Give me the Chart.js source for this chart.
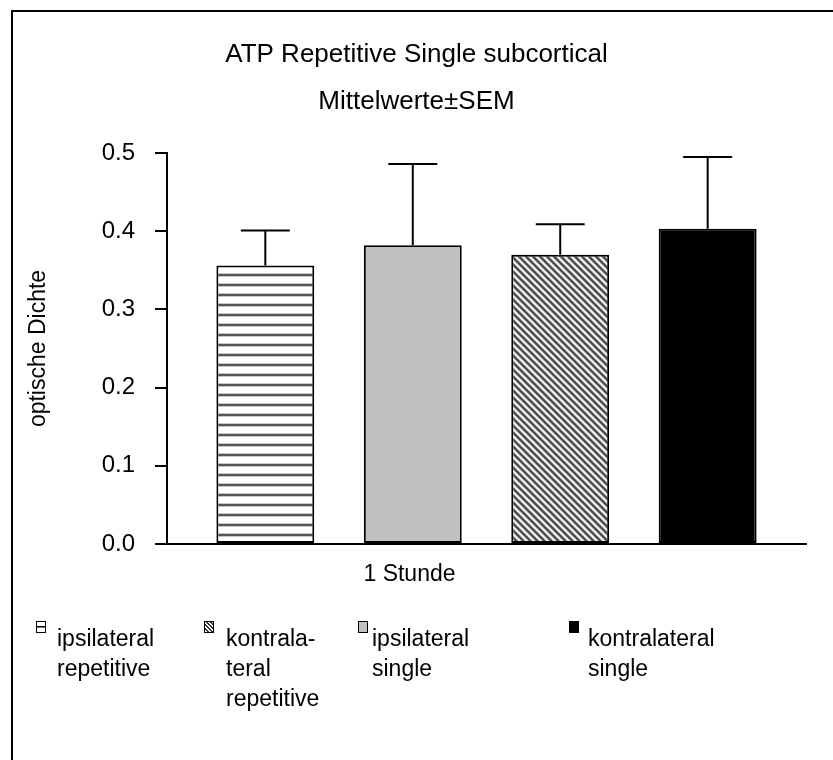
<!DOCTYPE html>
<html><head><meta charset="utf-8">
<script src="https://cdn.jsdelivr.net/npm/chart.js@4"></script>
<style>
html,body{margin:0;padding:0;overflow:hidden;background:#fff;width:833px;height:760px;}
#frame{position:absolute;left:11px;top:10px;width:900px;height:900px;border:2px solid #000;box-sizing:border-box;}
#c{position:absolute;left:0;top:0;}
#legend{position:absolute;left:0;top:0;width:833px;height:760px;font-family:"Liberation Sans",Arial,sans-serif;font-size:23px;color:#000;}
.mk{position:absolute;width:10px;height:12px;box-sizing:border-box;}
.txt{position:absolute;line-height:30px;white-space:pre;}
</style></head>
<body>
<div id="frame"></div>
<canvas id="c" width="833" height="760"></canvas>
<div id="legend"></div>
<script>
// ---- data ----
const categories = ['1 Stunde'];
const seriesNames = ['ipsilateral repetitive', 'ipsilateral single', 'kontralateral repetitive', 'kontralateral single'];
const legendLabels = ['ipsilateral\nrepetitive', 'ipsilateral\nsingle', 'kontrala-\nteral\nrepetitive', 'kontralateral\nsingle'];
const meanValues = [0.356, 0.382, 0.370, 0.403];
const semValues = [0.045, 0.104, 0.039, 0.092];
const yTickValues = [0.0, 0.1, 0.2, 0.3, 0.4, 0.5];
const legendOrder = [0, 2, 1, 3];
const titleLines = ['ATP Repetitive Single subcortical', 'Mittelwerte\u00B1SEM'];
const yAxisTitle = 'optische Dichte';

// ---- styling / layout ----
const FONT = '"Liberation Sans", Arial, sans-serif';
const canvas = document.getElementById('c');
const ctx = canvas.getContext('2d');

function hStripes() {
  const c = document.createElement('canvas'); c.width = 10; c.height = 10;
  const g = c.getContext('2d');
  g.fillStyle = '#fff'; g.fillRect(0, 0, 10, 10);
  g.fillStyle = '#c8c8c8'; g.fillRect(0, 3, 10, 1); g.fillRect(0, 6, 10, 1);
  g.fillStyle = '#555'; g.fillRect(0, 4, 10, 2);
  return ctx.createPattern(c, 'repeat');
}
function dStripes() {
  const P = 7;
  const c = document.createElement('canvas'); c.width = P; c.height = P;
  const g = c.getContext('2d');
  const img = g.createImageData(P, P);
  for (let y = 0; y < P; y++) for (let x = 0; x < P; x++) {
    const t = (((x - y) % P) + P) % P;
    const v = 0.5 + 0.5 * Math.cos(2 * Math.PI * t / P);
    const col = Math.round(60 + v * 195);
    const k = (y * P + x) * 4;
    img.data[k] = img.data[k + 1] = img.data[k + 2] = col; img.data[k + 3] = 255;
  }
  g.putImageData(img, 0, 0);
  return ctx.createPattern(c, 'repeat');
}
const fills = [hStripes(), '#c0c0c0', dStripes(), '#000000'];
const legendCss = [
  'background:#fff;border:1.5px solid #000;background-image:linear-gradient(#000,#000);background-size:100% 1.5px;background-position:0 50%;background-repeat:no-repeat;',
  'background:#c0c0c0;border:1.5px solid #000;',
  'background:repeating-linear-gradient(45deg,#fff 0 1.5px,#333 1.5px 3px);border:1.5px solid #000;',
  'background:#000;border:1.5px solid #000;'
];
const legendMarkerX = [36, 358, 204, 569];
const legendTextX = [57, 372, 226, 588];

const errorBars = {
  id: 'errorBars',
  afterDatasetsDraw(chart) {
    const c = chart.ctx, y = chart.scales.y;
    c.save(); c.strokeStyle = '#000'; c.lineWidth = 2;
    chart.data.datasets.forEach((ds, i) => {
      chart.getDatasetMeta(i).data.forEach((bar, j) => {
        const top = y.getPixelForValue(ds.data[j] + semValues[i]);
        const half = bar.width / 4;
        c.beginPath();
        c.moveTo(bar.x, bar.y); c.lineTo(bar.x, top);
        c.moveTo(bar.x - half, top); c.lineTo(bar.x + half, top);
        c.stroke();
      });
    });
    c.restore();
  }
};

new Chart(ctx, {
  type: 'bar',
  data: {
    labels: categories,
    datasets: seriesNames.map((name, i) => ({
      label: name,
      data: [meanValues[i]],
      backgroundColor: fills[i],
      borderColor: '#000',
      borderWidth: 2,
      borderSkipped: false,
      categoryPercentage: 0.923,
      barPercentage: 0.664
    }))
  },
  options: {
    responsive: false,
    animation: false,
    layout: { padding: { left: 27, right: 27, top: 0, bottom: 176 } },
    plugins: {
      legend: { display: false },
      tooltip: { enabled: false },
      title: {
        display: true,
        text: titleLines,
        color: '#000',
        font: { family: FONT, size: 26, weight: 'normal', lineHeight: '47px' },
        padding: { top: 31.5, bottom: 27.5 }
      }
    },
    scales: {
      x: {
        afterFit(s) { s.height = 40; },
        grid: { display: false, drawTicks: false },
        border: { display: true, color: '#000', width: 2 },
        ticks: { color: '#000', font: { family: FONT, size: 23 }, padding: 17, labelOffset: -77 }
      },
      y: {
        min: 0, max: 0.5,
        afterFit(s) { s.width = 140; },
        afterBuildTicks(s) { s.ticks = yTickValues.map(v => ({ value: v })); },
        grid: { display: true, drawOnChartArea: false, drawTicks: true, tickLength: 12, color: '#000', lineWidth: 2 },
        border: { display: true, color: '#000', width: 2 },
        ticks: { color: '#000', font: { family: FONT, size: 24 }, padding: 20, callback: v => v.toFixed(1) },
        title: { display: true, text: yAxisTitle, color: '#000', font: { family: FONT, size: 23, lineHeight: 1 }, padding: { top: 0, bottom: 0 } }
      }
    }
  },
  plugins: [errorBars]
});

// HTML legend
const leg = document.getElementById('legend');
legendOrder.forEach(i => {
  const m = document.createElement('div');
  m.className = 'mk';
  m.style.cssText = legendCss[i] + 'left:' + legendMarkerX[i] + 'px;top:621px;';
  leg.appendChild(m);
  const t = document.createElement('div');
  t.className = 'txt';
  t.style.left = legendTextX[i] + 'px';
  t.style.top = '623px';
  t.textContent = legendLabels[i];
  leg.appendChild(t);
});
</script>
</body></html>
